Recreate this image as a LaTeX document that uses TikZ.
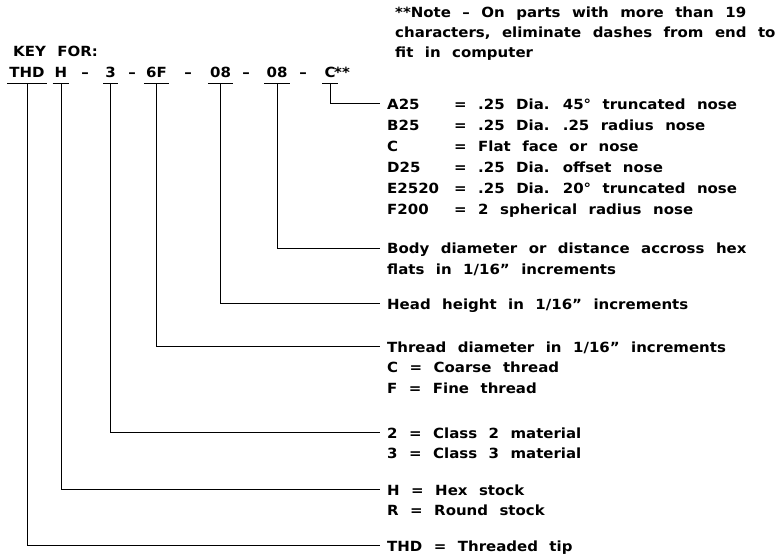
\documentclass[tikz,border=0pt]{standalone}
\usepackage{fontspec}
\setmainfont{DejaVu Sans}[FakeStretch=1.07,WordSpace=2.2]
\usetikzlibrary{positioning}

\newcommand{\nosecode}[1]{\makebox[67pt][l]{#1}}

\tikzset{
  keytext/.style={font=\fontsize{14}{20}\selectfont\bfseries, inner sep=0pt},
  part/.style={keytext, anchor=base, inner xsep=2pt, text height=10pt, text depth=5pt},
  lbl/.style={keytext, anchor=west, inner xsep=7pt, inner ysep=2.25pt, text height=14pt, text depth=2pt},
  nextline/.style={lbl, below right=0pt and 0pt of #1.south west},
  lead/.style={line width=1pt},
}

\begin{document}
\begin{tikzpicture}[x=1pt, y=-1pt]
  \useasboundingbox (0,0) rectangle (779,556);

  % note and title
  \node[keytext, anchor=north west, align=left] (note) at (395,6.5)
    {**Note – On parts with more than 19\\characters, eliminate dashes from end to\\fit in computer};
  \node[keytext, anchor=base west] (key) at (13,57) {KEY FOR:};

  % part number
  \node[part] (thd) at (27,78) {THD};
  \node[part] (hx) at (61,78) {H};
  \node[keytext, anchor=base] (d1) at (85,78) {–};
  \node[part] (cls) at (110.5,78) {3};
  \node[keytext, anchor=base] (d2) at (132,78) {–};
  \node[part] (thr) at (156.5,78) {6F};
  \node[keytext, anchor=base] (d3) at (188,78) {–};
  \node[part] (hd) at (220.5,78) {08};
  \node[keytext, anchor=base] (d4) at (246,78) {–};
  \node[part] (bd) at (277,78) {08};
  \node[keytext, anchor=base] (d5) at (303,78) {–};
  \node[part] (ns) at (330,78) {C};
  \node[keytext, anchor=base west] (stars) at (334,78) {**};

  % nose
  \node[lbl] (nA) at (380,104) {\nosecode{A25}= .25 Dia. 45° truncated nose};
  \node[nextline=nA] (nB) {\nosecode{B25}= .25 Dia. .25 radius nose};
  \node[nextline=nB] (nC) {\nosecode{C}= Flat face or nose};
  \node[nextline=nC] (nD) {\nosecode{D25}= .25 Dia. offset nose};
  \node[nextline=nD] (nE) {\nosecode{E2520}= .25 Dia. 20° truncated nose};
  \node[nextline=nE] (nF) {\nosecode{F200}= 2 spherical radius nose};

  % body, head, thread
  \node[lbl] (body) at (380,248) {Body diameter or distance accross hex};
  \node[nextline=body] (body2) {flats in 1/16” increments};
  \node[lbl] (head) at (380,303) {Head height in 1/16” increments};
  \node[lbl] (thrd) at (380,346) {Thread diameter in 1/16” increments};
  \node[nextline=thrd] (thrdC) {C = Coarse thread};
  \node[nextline=thrdC] (thrdF) {F = Fine thread};

  % material, stock, tip
  \node[lbl] (mat) at (380,432) {2 = Class 2 material};
  \node[nextline=mat] (mat3) {3 = Class 3 material};
  \node[lbl] (hex) at (380,489) {H = Hex stock};
  \node[nextline=hex] (rnd) {R = Round stock};
  \node[lbl] (tip) at (380,545) {THD = Threaded tip};

  % leaders
  \foreach \p/\l in {thd/tip, hx/hex, cls/mat, thr/thrd, hd/head, bd/body, ns/nA}{
    \draw[lead] (\p.south west) -- (\p.south east);
    \draw[lead] (\p.south) |- (\l.west);
  }
\end{tikzpicture}
\end{document}
